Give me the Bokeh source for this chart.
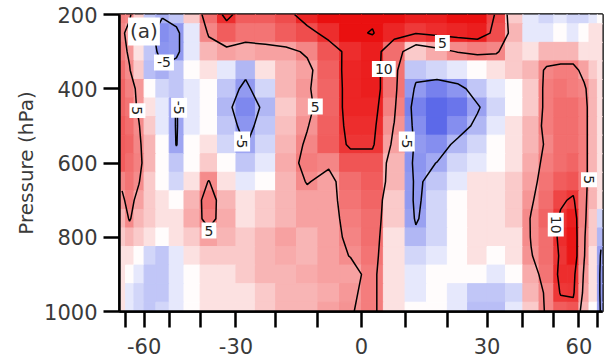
import numpy as np
from bokeh.plotting import figure
from bokeh.plotting.contour import contour_data
from bokeh.models import (ColumnDataSource, LinearColorMapper, FixedTicker,
                          CustomJSTickFormatter, Range1d, Label)
from bokeh.core.properties import value
from bokeh.embed import file_html
from bokeh.resources import INLINE

# ---------------- data ----------------
lat_centers = [-72.5, -67.5, -62.5, -57.5, -52.5, -47.5, -42.5, -37.5, -32.5, -27.5,
               -22.5, -17.5, -12.5, -7.5, -2.5, 2.5, 7.5, 12.5, 17.5, 22.5,
               27.5, 32.5, 37.5, 42.5, 47.5, 52.5, 57.5, 62.5, 67.5, 72.5]
pressure_levels = [200, 250, 300, 350, 400, 450, 500, 550, 600, 650,
                   700, 750, 800, 850, 900, 950, 1000]

z_200 = [6, 5.5, 2, -3, -4.5, -3, 2, 7, 11, 8, 8, 9, 11.5, 13, 14, 14, 13, 12, 12, 13, 14.5, 9.5, 2, -1, -2, -1, -2, -2, -1, 0]
z_250 = [5.5, 4, 1, -4, -7, -6, -1, 5.5, 8, 6.5, 6.5, 8, 9, 11, 14, 15.3, 11.5, 10.2, 11, 11.5, 12, 9, 3, -1, -1, 0, -1, 0, 1, 1]
z_300 = [6, 4.5, 1, -3, -6.5, -6, -1, 3, 4, 3.5, 4, 4, 5.5, 8.5, 11, 12, 7, 2, 3.5, 5.2, 6, 5.5, 2, 1, 3, 3, 3, 1, 1, 1]
z_350 = [7, 5.2, 2, -3.5, -4.5, -3, 0, 1, -1, -4, 1, 3, 4, 7.8, 11.5, 12, 6.5, -3, -2, -1, 0, 1, 2, 3, 5.5, 6, 6, 4, 2, 1]
z_400 = [7.5, 5.8, 4.5, 0, -2, -3, -1, 0, -3, -6, -2, 3, 4.5, 7.5, 11.5, 12, 6.5, -6, -8, -6.5, -3, -1, 0, 2, 6, 6.5, 6, 5.5, 3, 1]
z_450 = [7.5, 6.5, 4.5, 1, -1, -5.3, -1, 0, -4, -7.5, -4, 2, 4, 7.5, 11.5, 11.5, 5.8, -8, -10, -9, -5.5, -2, 0, 2, 6, 7, 7, 6, 3, 1]
z_500 = [8, 7, 5.2, 2, -1, -5.3, -1, 0, -3, -6.5, -3, 2.5, 4.8, 7.8, 11, 11, 4.8, -7, -10, -7, -4, -1, 1, 3, 6, 7, 7, 6, 3, 1]
z_550 = [8, 7.5, 5.5, 3, 0, -5.2, 0, 1, -2, -5.2, -2, 3, 5.5, 8, 10.5, 10.5, 4, -6, -7, -4, -2, 0, 1, 3, 5.5, 7, 7, 6, 3, 1]
z_600 = [8, 7, 5.8, 3, 0, -3, 0, 2, 0, -3, -1, 3.5, 6, 5.5, 8.5, 8.5, 3, -6.5, -4.9, -2, -1, 0, 1, 3.5, 6, 7, 7.5, 6, 3, 1]
z_650 = [5.5, 6.5, 5.2, 2, 0, -2, 1, 5.2, 1, -1, 0, 3, 5.2, 4, 7, 8, 3, -6, -3, -1, 1, 1, 2, 4, 6.5, 8, 8.5, 6, 3, 1]
z_700 = [4.5, 6, 4, 2, 1, 0, 3, 6.5, 3, 1, 2, 3, 4, 4, 6.5, 7.5, 2, -6, -2, 0, 1, 1, 2, 4.6, 7, 9.5, 10.5, 5.7, 3, 1]
z_750 = [3, 5.3, 3, 2, 1, 1, 3.5, 6, 3.5, 1, 2, 3, 4, 4, 6, 7, 2, -5.5, -2, 0, 1, 1, 2, 5.2, 7.5, 10.5, 12, 5.7, 2, -2]
z_800 = [2, 3, 2, 1, 0, 1, 2, 4, 3, 2, 3, 4, 3, 4, 5.6, 7, 1, -4, -2, 0, 1, 1, 1, 5.2, 7, 11, 12.5, 5.3, 2, -4]
z_850 = [1, 1, 0, -2, -3, -1, 1, 2, 2, 2, 3, 3.5, 3, 4, 5.1, 6.5, 1, -2, -1, 0, 1, 0, 1, 4.8, 7, 10.5, 12.5, 5.2, 1, -5.5]
z_900 = [1, 0, -1, -3, -3, -1, 0, 1, 1, 2, 3, 3, 3.5, 4, 4, 6, 1, -1, 0, 0, 0, -1, 0, 3.5, 6.5, 11, 11, 4.5, 1, -6]
z_950 = [1, -1, -2, -3, -3, -1, 0, 1, 1, 1, 2, 3, 3, 3.5, 4.5, 6, 1, -1, 0, -1, -3, -3, -2, 3, 5.5, 10.3, 10.5, 4, 1, -6]
z_1000 = [1, -1, -2, -3, -2, -1, 0, 1, 1, 1, 2, 3, 3, 4, 4.8, 6, 1, 0, 0, -1, -3.5, -3.5, -1, 2, 5.5, 8, 8.5, 3, 0, -5.5]

rows = [z_200, z_250, z_300, z_350, z_400, z_450, z_500, z_550, z_600, z_650,
        z_700, z_750, z_800, z_850, z_900, z_950, z_1000]

contour_levels = [-5, 5, 10, 15]

x_tick_lats = [-70, -60, -50, -40, -30, -20, -10, 0, 10, 20, 30, 40, 50, 60, 70]
y_ticks = [200, 400, 600, 800, 1000]

# contour labels: (lat, pressure, text, vertical?)
lab_lat = [-51.9, -63.2, -46.6, -28.4, -37.4, -10.6, 5.1, 18.8, 10.4, 50.7, 65.0]
lab_p = [329, 459, 451, 542, 782, 448, 347, 277, 542, 766, 645]
lab_text = ["-5", "5", "-5", "-5", "5", "5", "10", "5", "-5", "10", "5"]
lab_vertical = [False, True, True, True, False, False, False, False, True, True, True]

# ---------------- figure ----------------
Z = np.array(rows, dtype=float)
lats = np.array(lat_centers)
levs = np.array(pressure_levels, dtype=float)

def sinlat(a):
    return np.sin(np.radians(a))

half = 2.5
L, P = np.meshgrid(lats, levs)
cells = ColumnDataSource(dict(
    left=sinlat(L - half).ravel(), right=sinlat(L + half).ravel(),
    top=(P - 25).ravel(), bottom=(P + 25).ravel(), z=Z.ravel()))

def make_palette(n=256):
    cols = []
    for i in range(n):
        v = -1 + 2 * i / (n - 1)
        t = abs(v) ** 0.8
        if v >= 0:
            r, g, b = 255 - t * (255 - 234), 255 - t * (255 - 16), 255 - t * (255 - 16)
        else:
            r, g, b = 255 - t * (255 - 55), 255 - t * (255 - 70), 255 - t * (255 - 228)
        cols.append("#%02x%02x%02x" % (int(round(r)), int(round(g)), int(round(b))))
    return cols

mapper = LinearColorMapper(palette=make_palette(), low=-13, high=13)

p = figure(width=609, height=363, output_backend="svg", toolbar_location=None,
           x_range=Range1d(-0.964, 0.960), y_range=Range1d(1000, 200),
           min_border_left=119, min_border_right=7, min_border_top=14, min_border_bottom=52)
p.background_fill_color = "white"
p.border_fill_color = "white"
p.outline_line_color = "black"
p.outline_line_width = 2.5
p.grid.visible = False

p.quad(left="left", right="right", top="top", bottom="bottom", source=cells,
       fill_color={"field": "z", "transform": mapper},
       line_color={"field": "z", "transform": mapper}, line_width=1)

cd = contour_data(sinlat(lats), levs, Z, levels=contour_levels, want_fill=False, want_line=True)
p.multi_line(xs=cd.line_data.xs, ys=cd.line_data.ys, line_color="black", line_width=1.5)

lab_src = ColumnDataSource(dict(
    x=sinlat(np.array(lab_lat)), y=lab_p, text=lab_text,
    angle=[-np.pi / 2 if v else 0.0 for v in lab_vertical]))
p.text(x="x", y="y", text="text", angle="angle", source=lab_src,
       text_align="center", text_baseline="middle", text_font=value("DejaVu Sans"),
       text_font_size="14px", text_color="#222222",
       background_fill_color="white", padding=3)

p.add_layout(Label(x=-0.930, y=208, text="(a)", text_align="left", text_baseline="top",
                   text_font="DejaVu Sans", text_font_size="20px", text_color="#333333",
                   background_fill_color="white", padding=2))

for ax in (p.xaxis[0], p.yaxis[0]):
    ax.axis_line_color = "black"
    ax.axis_line_width = 2.5
    ax.major_tick_line_color = "black"
    ax.major_tick_line_width = 2.5
    ax.major_tick_in = 0
    ax.minor_tick_line_color = None
    ax.major_label_text_font = "DejaVu Sans"
    ax.major_label_text_font_size = "21px"
    ax.major_label_text_color = "#3a3a3a"

p.xaxis.ticker = FixedTicker(ticks=[float(sinlat(l)) for l in x_tick_lats])
p.xaxis.formatter = CustomJSTickFormatter(code="""
const d = Math.round(Math.asin(tick) * 180 / Math.PI);
return (d % 30 === 0) ? String(d) : "";
""")
p.xaxis.major_tick_out = 16
p.xaxis.major_label_standoff = 10

p.yaxis.ticker = FixedTicker(ticks=y_ticks)
p.yaxis.major_tick_out = 16
p.yaxis.major_label_standoff = 6
p.yaxis.axis_label = "Pressure (hPa)"
p.yaxis.axis_label_text_font = "DejaVu Sans"
p.yaxis.axis_label_text_font_size = "20px"
p.yaxis.axis_label_text_font_style = "normal"
p.yaxis.axis_label_text_color = "#3a3a3a"
p.yaxis.axis_label_standoff = 3

open("out.html", "w").write(file_html(p, INLINE))
